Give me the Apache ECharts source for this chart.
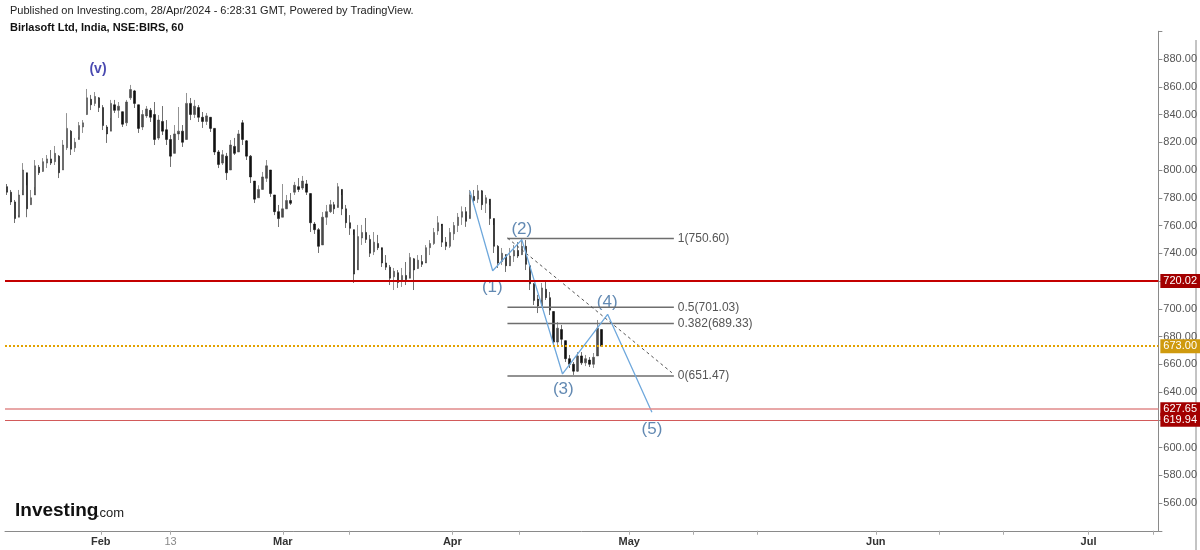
<!DOCTYPE html>
<html>
<head>
<meta charset="utf-8">
<script src="https://cdn.jsdelivr.net/npm/echarts@6/dist/echarts.min.js"></script>
<style>html,body{margin:0;padding:0;background:#fff}#c{width:1200px;height:550px}</style>
</head>
<body>
<div id="c"></div>
<script>
// ---- data (hourly candles grouped, [open, close, low, high]) ----
const candles = [
[788,784,782,789.9],[784,777,774.8,785.6],[777,765,761.8,778.4],[766,782,767.5,785.6],[782,800,785.6,805],
[798,772,766,789],[775,780,774.8,785.6],[782,803,787.7,807.2],[802,798,796.4,803.6],[799,806,798.6,808.6],
[805,808,801.4,810.8],[808,805,803.6,814.4],[806,812,803.6,817.3],[810,798,794.2,810.8],[800,818,800,821.6],
[816,830,814.4,841],[828,815,810.8,828.8],[816,820,813,823.1],[822,832,823.8,834.6],[831,834,826.7,836],
[840,852,839.6,858.4],[851,847,843.2,854.1],[848,853,846.1,856.2],[852,845,841.8,852.6],[845,832,828.8,846.8],
[831,826,819.5,832.4],[828,848,837.5,850.5],[847,843,841.1,850.5],[843,846,837.5,849],[842,833,831,841.8],
[834,849,831.7,850.5],[852,858,850.5,861.3],[857,848,844.7,857.7],[847,830,826.7,844.7],[831,840,828.8,843.2],
[839,844,837.5,846.1],[843,838,834.6,844.7],[840,822,818,849],[823,836,821.6,839.6],[835,828,825.2,846.1],
[829,822,818,836],[822,810,802.2,825.2],[812,826,814.4,832.4],[826,828,821.6,845.4],[828,820,816.6,832.4],
[822,848,832.4,855.5],[848,840,836,851.9],[840,846,837.5,850.5],[845,838,834.6,846.8],[838,835,830.3,841.8],
[835,839,832.4,841.1],[838,830,827.4,837.5],[830,813,810.8,827.4],[813,804,801.4,814.4],[805,811,803.6,814.4],
[810,798,792.8,812.3],[800,818,807.2,821.6],[817,812,810.8,823.1],[813,826,814.4,828.8],[834,822,818,836],
[821,810,807.2,821.6],[810,795,790.6,810.8],[792,779,776.2,789],[780,786,779.9,789],[786,795,785.6,798.6],
[794,803,791.4,807.2],[800,783,780.6,795.7],[782,770,767.5,779.9],[770,765,758.9,774.8],[766,772,771.2,789.9],
[772,778,773.3,782],[778,776,774.8,783.4],[784,789,782,791.4],[788,786,784.1,794.2],[787,792,785.6,795.7],
[790,784,782,792.8],[783,762,755.3,782],[761,757,753.9,762.5],[757,745,740.2,758.2],[746,766,753.2,769.7],
[766,770,760.4,774.8],[770,775,769,778.4],[775,772,768.3,777],[773,788,774.8,790.6],[786,772,767.5,782],
[772,762,758.2,774.8],[762,758,753.2,767.5],[757,725,718.6,753.2],[728,752,735.1,760.4],[751,755,746,760.4],
[755,750,747.4,765.4],[750,740,737.3,753.2],[741,748,738.7,755.3],[747,744,742.3,753.2],[744,733,730.1,742.3],
[733,730,727.9,738.7],[730,722,717.1,731.5],[723,727,713.5,729.4],[726,719,715,727.9],[720,724,715.7,729.4],
[724,721,717.1,733.7],[722,737,726.5,740.2],[736,728,713.5,736.6],[729,735,729.4,738.7],[734,732,730.1,738.7],
[733,744,733.7,745.9],[744,747,738.7,749.5],[747,755,746,758.2],[756,762,753.2,766.8],[761,748,744.5,759.6],
[748,745,742.3,751.7],[745,755,743.8,758.2],[754,760,749.5,762.5],[760,766,755.3,769],[766,770,760.4,773.8],
[770,763,759,773.3],[765,782,767.5,785.6],[781,778,774.8,785.6],[779,785,776.2,789.2],[785,775,771.2,785.6],
[776,780,769,782],[779,765,760.4,774.8],[765,745,740.2,760.4],[745,733,729.4,745.9],[734,740,731.5,743.8],
[739,731,726.5,738.7],[731,738,731.5,743.8],[738,742,733.7,745.9],[742,738,736.6,748],[739,745,738.7,750.6],
[745,732,727.9,749.5],[731,718,713.5,729.4],[718,706,702.7,718.6],[707,702,696.9,710],[702,715,706.3,718.6],
[714,708,706.3,720.7],[708,699,695.5,712.1],[698,676,672.4,697.6],[676,686,673.9,690.4],[685,678,673.9,688.3],
[677,664,661.6,673.9],[664,660,657.3,666.7],[660,655,652.3,661.6],[655,666,654.4,668.8],[666,661,659.5,668.8],
[661,664,658.7,666.7],[663,660,658,665.2],[660,665,657.3,668.1],[666,686,670.9,691.9],[685,673,672.4,684.7]
];
const totalSlots = 289;               // bar slots incl. empty future area
// x ticks in bar-slot units
const tickPos    = [24.0, 41.5, 69.6, 86.3, 112.1, 128.9, 156.4, 172.4, 188.4, 218.2, 234.0, 250.2, 271.5, 287.8];
const tickLabels = ['Feb', '13', 'Mar', '', 'Apr', '', 'May', '', '', 'Jun', '', '', 'Jul', ''];
// horizontal price levels
const levels = [
  {value: 720.02, line: '#c40000', width: 2, type: 'solid', box: '#a30000'},
  {value: 673.00, line: '#e2a200', width: 2, type: 'dotted', box: '#cf9a0e'},
  {value: 627.65, line: '#e08a8a', width: 1.5, type: 'solid', box: '#a30000'},
  {value: 619.94, line: '#d25a5a', width: 1.2, type: 'solid', box: '#a30000'}
];
// fibonacci retracement
const fibStart = 125.9, fibEnd = 167.6;
const fibRatios = ['1', '0.5', '0.382', '0'];
const fibValues = [750.60, 701.03, 689.33, 651.47];
// trend (dashed) line
const trendLine = [[125.9, 751.0], [167.1, 653.9]];
// Elliott wave path
const wavePath = [[116.5, 785.0], [122.2, 727.4], [129.5, 749.8], [139.7, 653.0], [151.0, 696.0], [162.1, 625.4]];
const waveLabels = [[122.1, 715.7, '(1)'], [129.5, 757.5, '(2)'], [139.9, 642.2, '(3)'], [150.9, 704.9, '(4)'], [162.1, 613.3, '(5)']];
const majorLabel = [[23.3, 872.8, '(v)']];

const FONT = '"Liberation Sans", Arial, sans-serif';
const chart = echarts.init(document.getElementById('c'), null, {renderer: 'canvas'});
const cats = Array.from({length: totalSlots}, (_, i) => i);

const series = [];
series.push({
  type: 'candlestick', xAxisIndex: 0, yAxisIndex: 0,
  data: candles, barWidth: 2,
  itemStyle: {color: '#4a4a4a', color0: '#111', borderColor: '#4a4a4a', borderColor0: '#111', borderWidth: 0.6},
  markLine: {
    silent: true, symbol: ['none', 'none'], animation: false,
    data: levels.map(l => ({
      yAxis: l.value,
      lineStyle: {color: l.line, width: l.width, type: l.type},
      label: {show: true, position: 'end', distance: 2, formatter: l.value.toFixed(2),
        color: '#fff', backgroundColor: l.box, padding: [2, 3, 1, 3], fontSize: 11, fontFamily: FONT}
    }))
  }
});
fibValues.forEach((v, k) => {
  series.push({
    type: 'line', xAxisIndex: 1, yAxisIndex: 0, symbol: 'none', silent: true, animation: false,
    data: [[fibStart, v], [fibEnd, v]],
    lineStyle: {color: '#6e6e6e', width: 1.5},
    endLabel: {show: true, formatter: fibRatios[k] + '(' + v.toFixed(2) + ')', color: '#555', fontSize: 12, fontFamily: FONT, distance: 4}
  });
});
series.push({
  type: 'line', xAxisIndex: 1, yAxisIndex: 0, symbol: 'none', silent: true, animation: false,
  data: trendLine, lineStyle: {color: '#555', width: 1, type: [3, 3]}
});
series.push({
  type: 'line', xAxisIndex: 1, yAxisIndex: 0, symbol: 'none', silent: true, animation: false,
  data: wavePath, lineStyle: {color: '#6fa8dc', width: 1.3}
});
series.push({
  type: 'scatter', xAxisIndex: 1, yAxisIndex: 0, symbolSize: 1, silent: true, animation: false,
  itemStyle: {color: 'rgba(0,0,0,0)'},
  data: waveLabels,
  label: {show: true, position: 'inside', formatter: p => p.data[2], color: '#3b6c9f', fontSize: 17, fontFamily: FONT}
});
series.push({
  type: 'scatter', xAxisIndex: 1, yAxisIndex: 0, symbolSize: 1, silent: true, animation: false,
  itemStyle: {color: 'rgba(0,0,0,0)'},
  data: majorLabel,
  label: {show: true, position: 'inside', formatter: p => p.data[2], color: '#1c1c9c', fontSize: 14, fontWeight: 'bold', fontFamily: FONT}
});

function tickText(val) {
  let best = 0, bd = 1e9;
  tickPos.forEach((t, k) => { const d = Math.abs(t - val); if (d < bd) { bd = d; best = k; } });
  const s = tickLabels[best];
  if (!s) return '';
  return /^\d+$/.test(s) ? '{d|' + s + '}' : '{m|' + s + '}';
}

chart.setOption({
  animation: false,
  backgroundColor: '#fff',
  grid: {left: 5, right: 40, top: 31.25, bottom: 19.25, containLabel: false},
  xAxis: [
    {type: 'category', data: cats, boundaryGap: true, show: false},
    {type: 'value', min: 0, max: totalSlots, position: 'bottom',
      splitLine: {show: false},
      axisLine: {show: true, onZero: false, lineStyle: {color: '#8a8a8a', width: 1}},
      axisTick: {show: true, customValues: tickPos, length: 4, lineStyle: {color: '#aaa'}},
      axisLabel: {show: true, customValues: tickPos.filter((t, k) => tickLabels[k]), formatter: tickText, margin: 6,
        rich: {m: {color: '#333', fontWeight: 'bold', fontSize: 11, fontFamily: FONT},
               d: {color: '#888', fontSize: 11, fontFamily: FONT}}}
    }
  ],
  yAxis: [{
    type: 'value', position: 'right', min: 540, max: 900, interval: 20,
    splitLine: {show: false},
    axisLine: {show: true, onZero: false, lineStyle: {color: '#8a8a8a'}},
    axisTick: {show: true, length: 4, lineStyle: {color: '#8a8a8a'}},
    axisLabel: {color: '#555', fontSize: 11, fontFamily: FONT, margin: 5,
      formatter: v => (v <= 540 || v >= 900) ? '' : v.toFixed(2)}
  }],
  graphic: [
    {type: 'text', left: 10, top: 5, style: {text: 'Published on Investing.com, 28/Apr/2024 - 6:28:31 GMT, Powered by TradingView.', fill: '#222', font: '11px ' + FONT}},
    {type: 'text', left: 10, top: 22, style: {text: 'Birlasoft Ltd, India, NSE:BIRS, 60', fill: '#111', font: 'bold 11px ' + FONT}},
    {type: 'text', left: 15, top: 501, style: {text: 'Investing', fill: '#111', font: 'bold 19px ' + FONT}},
    {type: 'text', left: 96, top: 507, style: {text: '.com', fill: '#222', font: '13px ' + FONT}},
    {type: 'line', shape: {x1: 1196, y1: 40, x2: 1196, y2: 550}, style: {stroke: '#888', lineWidth: 1}}
  ],
  series: series
});
</script>
</body>
</html>
